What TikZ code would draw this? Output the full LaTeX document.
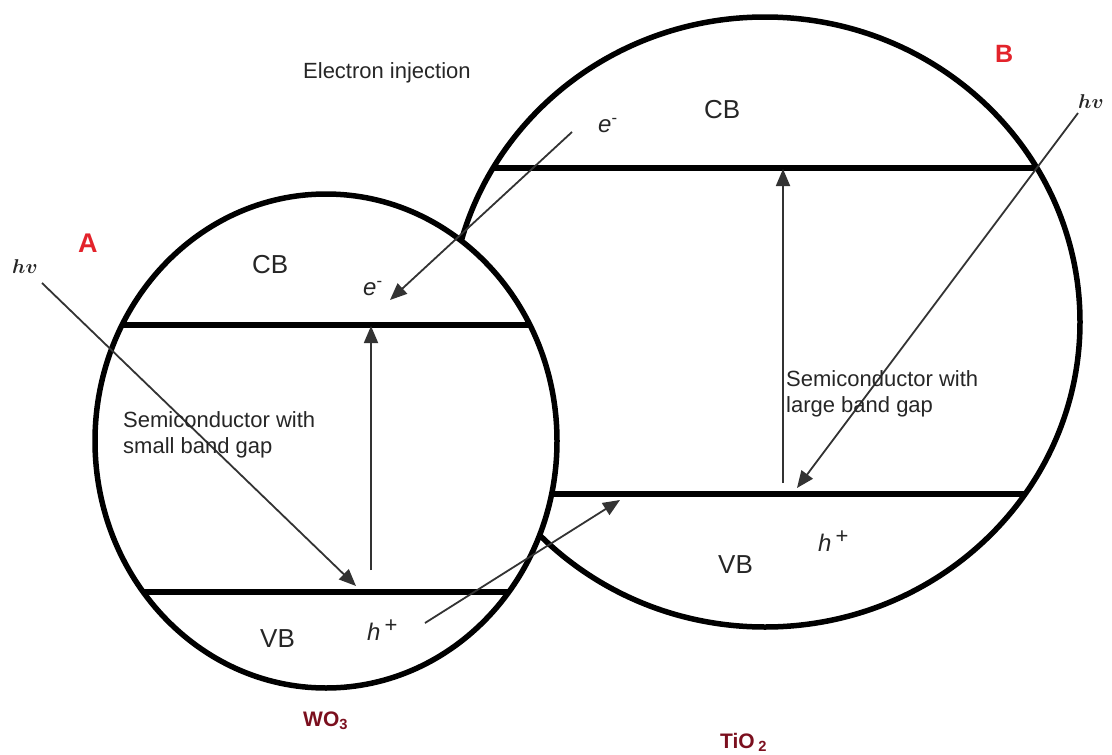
\RequirePackage{fix-cm}
\documentclass[tikz,border=0pt]{standalone}
\usepackage{fontspec}
\setsansfont{Liberation Sans}
\usetikzlibrary{arrows.meta}
\definecolor{txt}{HTML}{262626}
\definecolor{ink}{HTML}{333333}
\definecolor{lbl}{HTML}{E3232B}
\definecolor{chem}{HTML}{7B0F1E}
\begin{document}
\begin{tikzpicture}[x=1pt,y=-1pt,
  band/.style={line width=6.5pt},
  rim/.style={line width=5.5pt},
  ray/.style={draw=ink, line width=1.8pt, -{Triangle[length=17pt,width=14pt]}},
  lab/.style={font=\sffamily\fontsize{26}{28}\selectfont, text=txt, inner sep=0pt, anchor=base west},
  carrier/.style={font=\sffamily\itshape\fontsize{24}{26}\selectfont, text=txt, inner sep=0pt, anchor=base west},
  desc/.style={font=\sffamily\fontsize{22}{26}\selectfont, text=txt, inner sep=0pt, anchor=base west},
  letter/.style={font=\sffamily\bfseries\fontsize{27}{28}\selectfont, text=lbl, inner sep=0pt, anchor=base west},
  chemname/.style={font=\sffamily\bfseries\fontsize{21}{24}\selectfont, text=chem, inner sep=0pt, anchor=base west},
  photon/.style={font=\fontsize{20}{22}\selectfont\boldmath, text=txt, inner sep=0pt, anchor=base west}
]
\useasboundingbox (0,0) rectangle (1112,755);

% ---- right particle (TiO2) ----
\draw[rim] (765,322) ellipse [x radius=315pt, y radius=305pt];
\begin{scope}
  \clip (765,322) ellipse [x radius=315pt, y radius=305pt];
  \draw[band] (400,168) -- (1150,168);
  \draw[band] (400,494) -- (1150,494);
\end{scope}

% ---- left particle (WO3) ----
\draw[rim, fill=white] (326,441) ellipse [x radius=231pt, y radius=247pt];
\begin{scope}
  \clip (326,441) ellipse [x radius=231pt, y radius=247pt];
  \draw[band] (50,325) -- (600,325);
  \draw[band] (50,592) -- (600,592);
\end{scope}

% ---- coordinates for arrows ----
\coordinate (hvLs) at (42,283);
\coordinate (hvLe) at (356,586);
\coordinate (gapLs) at (371,570);
\coordinate (gapLe) at (371,326);
\coordinate (ejs) at (572,132);
\coordinate (eje) at (390,300);
\coordinate (hjs) at (425,623);
\coordinate (hje) at (620,500);
\coordinate (gapRs) at (783,483);
\coordinate (gapRe) at (783,169);
\coordinate (hvRs) at (1078,113);
\coordinate (hvRe) at (797,488);

\draw[ray] (hvLs) -- (hvLe);
\draw[ray] (gapLs) -- (gapLe);
\draw[ray] (ejs) -- (eje);
\draw[ray] (hjs) -- (hje);
\draw[ray] (gapRs) -- (gapRe);
\draw[ray] (hvRs) -- (hvRe);

% ---- labels ----
\node[letter] (A) at (78,252) {A};
\node[letter, font=\sffamily\bfseries\fontsize{25}{28}\selectfont] (B) at (995,62) {B};
\node[photon] (hvL) at (12,273) {$hv$};
\node[photon] (hvR) at (1078,108) {$hv$};
\node[desc] (inj) at (303,78) {Electron injection};

\node[lab] (cbL) at (252,273) {CB};
\node[lab] (vbL) at (260,647) {VB};
\node[lab] (cbR) at (704,118) {CB};
\node[lab] (vbR) at (718,573) {VB};

\node[carrier] (eL) at (363,295) {e\textsuperscript{\upshape -}};
\node[carrier] (eR) at (598,132) {e\textsuperscript{\upshape -}};
\node[carrier] (hL) at (367,640) {h\,\raisebox{0.32em}{\upshape\fontsize{22}{24}\selectfont +}};
\node[carrier] (hR) at (818,551) {h\,\raisebox{0.32em}{\upshape\fontsize{22}{24}\selectfont +}};

\node[desc] (sL1) at (123,427) {Semiconductor with};
\node[desc] (sL2) at (123,453) {small band gap};
\node[desc] (sR1) at (786,386) {Semiconductor with};
\node[desc] (sR2) at (786,412) {large band gap};

\node[chemname] (wo) at (303,726) {WO\textsubscript{3}};
\node[chemname] (ti) at (720,748) {TiO\,\textsubscript{2}};
\end{tikzpicture}
\end{document}
